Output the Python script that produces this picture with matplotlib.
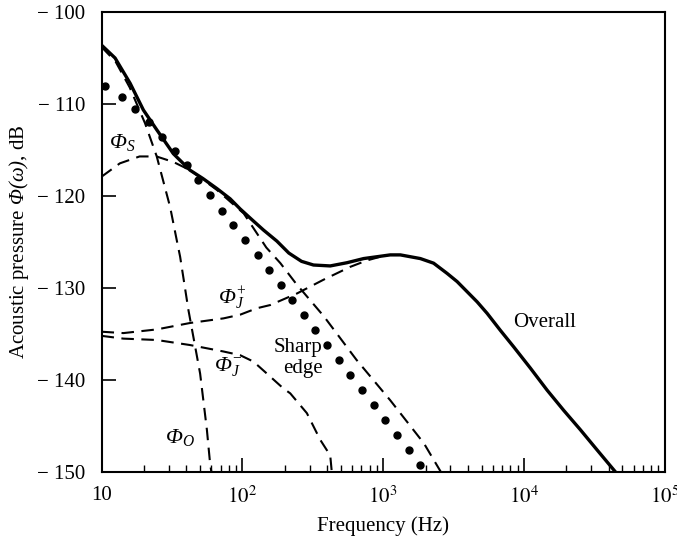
import matplotlib
matplotlib.use("Agg")
import matplotlib.pyplot as plt
import numpy as np

plt.rcParams['font.family'] = ['Liberation Serif', 'DejaVu Serif']
plt.rcParams['mathtext.fontset'] = 'stix'
plt.rcParams['mathtext.rm'] = 'Liberation Serif:italic'
plt.rcParams['mathtext.it'] = 'Liberation Serif:italic'
plt.rcParams['mathtext.bf'] = 'Liberation Serif:bold'

# Overall (solid) : log10(f), dB
overall_logf = [1.0, 1.096, 1.203, 1.297, 1.392, 1.51, 1.629, 1.72, 1.82, 1.913, 1.984, 2.07,
                2.15, 2.245, 2.33, 2.42, 2.505, 2.624, 2.743, 2.861, 2.979, 3.05, 3.122, 3.264,
                3.358, 3.453, 3.525, 3.596, 3.667, 3.738, 3.832, 3.927, 4.045, 4.164, 4.282,
                4.4, 4.519, 4.65]
overall_db = [-103.6, -105.0, -107.75, -110.65, -112.8, -115.4, -117.2, -118.1, -119.2, -120.3,
              -121.4, -122.6, -123.7, -124.9, -126.2, -127.1, -127.5, -127.6, -127.25, -126.8,
              -126.55, -126.4, -126.4, -126.8, -127.3, -128.4, -129.3, -130.4, -131.5, -132.75,
              -134.6, -136.4, -138.7, -141.1, -143.3, -145.4, -147.6, -150.0]

# Sharp edge (dots)
sharp_f = [10.6, 13.9, 17.3, 21.9, 26.8, 33.3, 40.3, 48.8, 59.0, 72.2, 86.5, 104.7, 128.8,
           155, 188, 225, 272, 329, 398, 482, 583, 706, 855, 1035, 1253, 1517, 1837]
sharp_db = [-108.0, -109.2, -110.5, -112.0, -113.55, -115.1, -116.6, -118.3, -119.9, -121.6,
            -123.2, -124.8, -126.4, -128.0, -129.7, -131.3, -132.9, -134.6, -136.2, -137.8,
            -139.5, -141.1, -142.7, -144.3, -146.0, -147.6, -149.2]

# Phi_O (dashed, steep)
phio_logf = [1.0, 1.1, 1.2, 1.309, 1.392, 1.487, 1.534, 1.558, 1.617, 1.70, 1.748, 1.771, 1.78]
phio_db = [-103.8, -105.4, -108.2, -112.1, -115.7, -121.2, -124.8, -126.6, -132.4, -139.3,
           -145.4, -149.1, -150.0]

# Phi_S (dashed, hump)
phis_logf = [1.0, 1.13, 1.27, 1.39, 1.51, 1.63, 1.82, 2.01, 2.17, 2.27, 2.38, 2.58, 2.81,
             3.05, 3.29, 3.41]
phis_db = [-117.9, -116.45, -115.7, -115.7, -116.3, -117.2, -119.35, -121.9, -125.6, -127.3,
           -129.5, -133.1, -137.8, -142.2, -146.9, -150.0]

# Phi_J+ (dashed, rising)
phijp_logf = [1.0, 1.155, 1.392, 1.629, 1.866, 1.984, 2.103, 2.198, 2.387, 2.576, 2.766,
              2.885, 2.98]
phijp_db = [-134.75, -134.9, -134.5, -133.8, -133.3, -132.9, -132.2, -131.85, -130.6, -129.1,
            -127.7, -127.0, -126.6]

# Phi_J- (dashed, falling)
phijm_logf = [1.0, 1.155, 1.392, 1.629, 1.866, 1.984, 2.079, 2.174, 2.29, 2.34, 2.458, 2.553,
              2.624, 2.635]
phijm_db = [-135.2, -135.5, -135.65, -136.2, -136.9, -137.3, -138.0, -139.3, -140.9, -141.45,
            -143.6, -146.5, -148.2, -150.0]

xticks = [10, 100, 1000, 10000, 100000]
xticklabels = ['10', '$10^{2}$', '$10^{3}$', '$10^{4}$', '$10^{5}$']
yticks = [-150, -140, -130, -120, -110, -100]
yticklabels = ['\u2212 150', '\u2212 140', '\u2212 130', '\u2212 120', '\u2212 110', '\u2212 100']

fig = plt.figure(figsize=(6.77, 5.46), dpi=100)
ax = fig.add_axes([0.15, 0.1355, 0.832, 0.8425])

dash = (0, (6, 3.6))
lwd = 1.5
ax.plot(10 ** np.array(phio_logf), phio_db, color='black', lw=lwd, ls=dash)
ax.plot(10 ** np.array(phis_logf), phis_db, color='black', lw=lwd, ls=dash)
ax.plot(10 ** np.array(phijp_logf), phijp_db, color='black', lw=lwd, ls=dash)
ax.plot(10 ** np.array(phijm_logf), phijm_db, color='black', lw=lwd, ls=dash)
ax.plot(sharp_f, sharp_db, ls='none', marker='o', ms=5, color='black')
ax.plot(10 ** np.array(overall_logf), overall_db, color='black', lw=2.4,
        solid_joinstyle='round', solid_capstyle='round')

ax.set_xscale('log')
ax.set_xlim(10, 1e5)
ax.set_ylim(-150, -100)
ax.set_xticks(xticks)
ax.set_xticklabels(xticklabels)
ax.set_yticks(yticks)
ax.set_yticklabels(yticklabels)
ax.tick_params(axis='x', which='major', direction='in', length=10, width=1.2,
               labelsize=15, pad=10)
ax.tick_params(axis='y', which='major', direction='in', length=10, width=1.2,
               labelsize=15, pad=12)
ax.tick_params(axis='x', which='minor', direction='in', length=5, width=1.0)
ax.tick_params(top=False, right=False, which='both')
for s in ax.spines.values():
    s.set_linewidth(1.5)

ax.set_xlabel('Frequency (Hz)', fontsize=15, labelpad=6)
ax.set_ylabel('Acoustic pressure $\\Phi(\\omega)$, dB', fontsize=15, labelpad=4,
              math_fontfamily='custom')

tk = dict(fontsize=16, ha='center', va='center', math_fontfamily='custom')
ax.text(14.0, -114.2, '$\\Phi_{S}$', **tk)
ax.text(84.8, -131.0, '$\\Phi_{J}^{+}$', **tk)
ax.text(79.4, -138.5, '$\\Phi_{J}^{-}$', **tk)
ax.text(36.1, -146.3, '$\\Phi_{O}$', **tk)
ax.text(10 ** 2.57, -137.6, 'Sharp\nedge', fontsize=15, ha='right', va='center',
        multialignment='right', linespacing=1.2)
ax.text(10 ** 3.925, -133.8, 'Overall', fontsize=15, ha='left', va='center')

fig.savefig('out.png', dpi=100)
